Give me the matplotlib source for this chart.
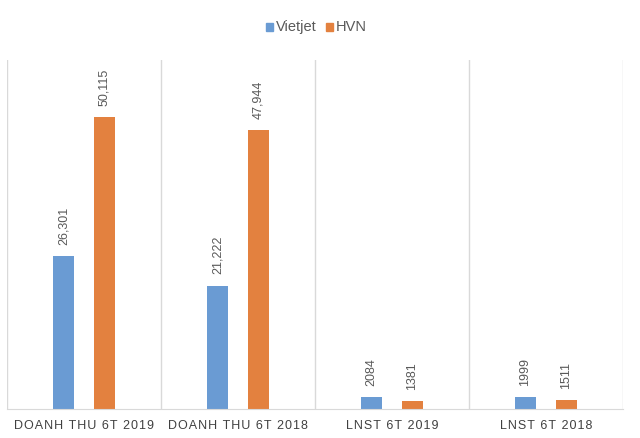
import numpy as np
import matplotlib
matplotlib.use("Agg")
import matplotlib.pyplot as plt
from matplotlib.patches import Rectangle

categories = ["DOANH THU 6T 2019", "DOANH THU 6T 2018", "LNST 6T 2019", "LNST 6T 2018"]
vietjet = [26301, 21222, 2084, 1999]
hvn = [50115, 47944, 1381, 1511]
vietjet_labels = ["26,301", "21,222", "2084", "1999"]
hvn_labels = ["50,115", "47,944", "1381", "1511"]
series_names = ["Vietjet", "HVN"]

blue = "#6a9bd3"
orange = "#e3813f"
grid_c = "#d9d9d9"
text_c = "#595959"

plt.rcParams['font.family'] = ['Liberation Sans', 'DejaVu Sans']

W, H = 640, 438
fig = plt.figure(figsize=(W / 100, H / 100), dpi=100)
ax = fig.add_axes([7/W, 29/H, 616/W, 349/H])

x = np.arange(len(categories))
w = 0.136
off = 0.133
b1 = ax.bar(x - off, vietjet, w, color=blue, label=series_names[0])
b2 = ax.bar(x + off, hvn, w, color=orange, label=series_names[1])

for bars, labs in [(b1, vietjet_labels), (b2, hvn_labels)]:
    for rect, lab in zip(bars, labs):
        ax.annotate(lab, (rect.get_x() + rect.get_width() / 2, rect.get_height()),
                    xytext=(0, 8), textcoords="offset points",
                    rotation=90, ha="center", va="bottom",
                    fontsize=9, color=text_c)

ax.set_xlim(-0.5, len(categories) - 0.5)
ax.set_ylim(0, 60000)
for b in np.arange(-0.5, len(categories), 1.0):
    ax.axvline(b, color=grid_c, lw=1, zorder=0)

for s in ["top", "right", "left"]:
    ax.spines[s].set_visible(False)
ax.spines["bottom"].set_color(grid_c)
ax.set_yticks([])
ax.set_xticks(x)
# letter spacing with hair spaces
spaced = ["\u200a".join(c) for c in categories]
ax.set_xticklabels(spaced, fontsize=9, color="#404040")
ax.tick_params(axis="x", length=0, pad=8)

# legend drawn by hand so both labels share a baseline
legend_x = [266, 326]
for lx, name, col in zip(legend_x, series_names, [blue, orange]):
    fig.patches.append(Rectangle((lx / W, 1 - 30.5 / H), 7 / W, 7 / H,
                                 transform=fig.transFigure, color=col))
    fig.text((lx + 10) / W, 1 - 31 / H, name, fontsize=10.5, color=text_c,
             ha="left", va="baseline")

fig.savefig("out.png", dpi=100)
